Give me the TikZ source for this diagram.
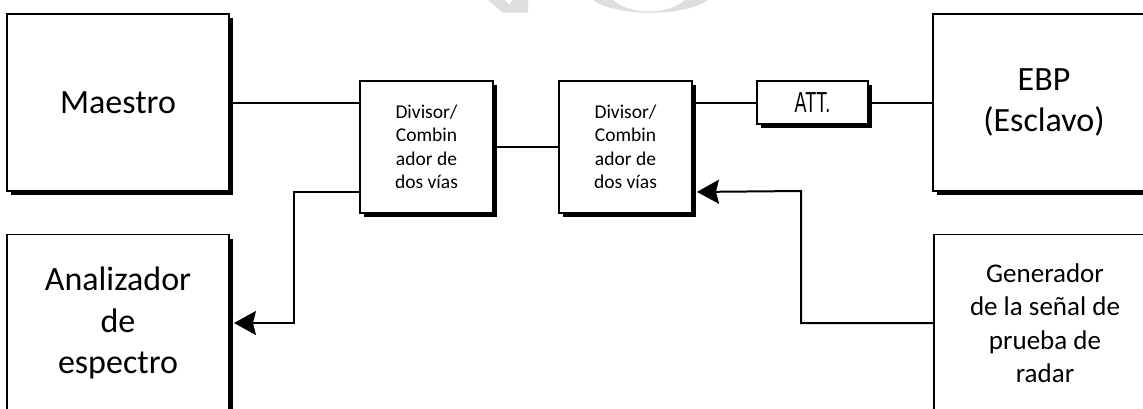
\documentclass[tikz,border=0pt]{standalone}
\usepackage{fontspec}
\setmainfont{Carlito}
\newfontfamily\attfont[FakeStretch=0.62]{Liberation Sans}
\usetikzlibrary{shadows,arrows.meta,calc}
\begin{document}
\begin{tikzpicture}[x=1pt,y=-1pt,
  unit/.style={draw=black, line width=1.9pt, fill=white, inner sep=0pt,
    align=center, general shadow={fill=black, shadow xshift=4pt, shadow yshift=-4pt}},
  bigbox/.style={unit, minimum width=222pt, minimum height=177pt,
    font=\fontsize{34}{41.5}\selectfont},
  genbox/.style={unit, minimum width=222pt, minimum height=177pt,
    font=\fontsize{27}{33.5}\selectfont},
  divbox/.style={unit, minimum width=133pt, minimum height=132pt,
    font=\fontsize{19.5}{23.5}\selectfont},
  attbox/.style={unit, minimum width=111pt, minimum height=43pt,
    font=\attfont\fontsize{29}{30}\selectfont},
  wire/.style={line width=2pt, line join=miter},
  feed/.style={wire, -{Stealth[length=22pt, width=24pt, inset=3pt]}},
  logopart/.style={fill=black!13, draw=none}]
\clip (0,0) rectangle (1143,408);
\fill[white] (0,0) rectangle (1143,408);

% faint logo fragments along the top edge
\fill[logopart] (488,0) -- (505,0) -- (509,5) -- (513,0) -- (528,0)
  -- (528,12.7) -- (503,12.7) -- cycle;
\fill[logopart, even odd rule]
  (650.5,-8) ellipse [x radius=62pt, y radius=20.7pt]
  (649,-12.5) ellipse [x radius=42pt, y radius=24pt];

% units
\node[bigbox] (maestro) at (118,102.5) {Maestro};
\node[bigbox] (analizador) at (118,323) {Analizador\\de\\espectro};
\node[bigbox] (ebp) at (1044,102.5) {EBP\\(Esclavo)};
\node[genbox] (gen) at (1045,323) {Generador\\de la señal de\\prueba de\\radar};
\node[divbox] (div1) at (426.5,147) {Divisor/\\Combin\\ador de\\dos vías};
\node[divbox] (div2) at (625.5,147) {Divisor/\\Combin\\ador de\\dos vías};
\node[attbox] (att) at (812.5,102.5) {ATT.};

% helper points
\coordinate (d1low) at ($(div1.south west)+(0,-22)$);
\coordinate (d2low) at ($(div2.south east)+(4,-22)$);
\coordinate (anain) at ($(analizador.east)+(4,0)$);

% connections
\draw[wire] (maestro.east) -- (maestro.east -| div1.west);
\draw[wire] (div1.east) -- (div2.west);
\draw[wire] (div2.east |- att.west) -- (att.west);
\draw[wire] (att.east) -- (att.east -| ebp.west);
\draw[feed] (d1low) -| (294,323) -- (anain);
\draw[feed] (gen.west) -| (801,191) -- (d2low);
\end{tikzpicture}
\end{document}
